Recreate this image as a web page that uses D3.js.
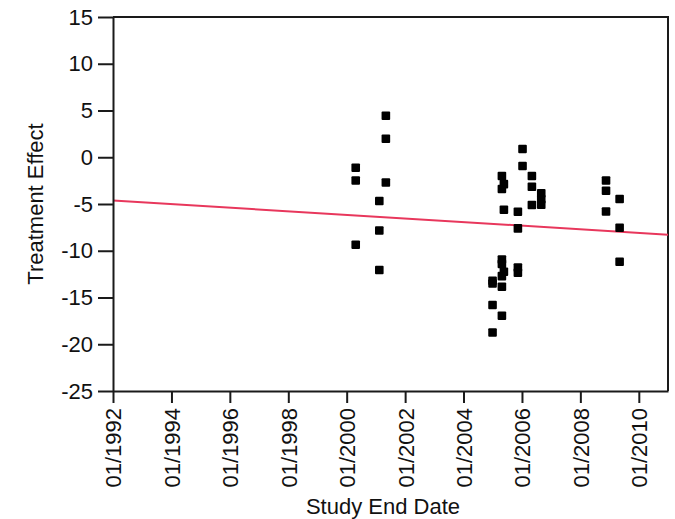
<!DOCTYPE html>
<html>
<head>
<meta charset="utf-8">
<script src="https://cdn.jsdelivr.net/npm/d3@7"></script>
<style>
  html, body { margin: 0; padding: 0; background: #fff; }
  svg { display: block; }
</style>
</head>
<body>
<svg id="chart" width="675" height="519"></svg>
<script>
// ---- data ----
const studyDates = [
  "2000-04-23","2000-04-23","2000-04-23",
  "2001-02-12","2001-02-12","2001-02-12",
  "2001-05-05","2001-05-05","2001-05-05",
  "2004-12-29","2004-12-29","2004-12-29","2004-12-29",
  "2005-04-25","2005-04-25","2005-04-25","2005-04-25","2005-04-25","2005-04-25","2005-04-25",
  "2005-05-20","2005-05-20","2005-05-20",
  "2005-11-11","2005-11-11","2005-11-11","2005-11-11",
  "2006-01-08","2006-01-08",
  "2006-05-05","2006-05-05","2006-05-05",
  "2006-08-30","2006-08-30","2006-08-30",
  "2008-11-17","2008-11-17","2008-11-17",
  "2009-05-06","2009-05-06","2009-05-06"
];
const treatmentEffects = [
  -1.12, -2.48, -9.36,
  -4.68, -7.83, -12.06,
  4.44, 1.98, -2.70,
  -13.21, -13.50, -15.81, -18.74,
  -2.01, -3.40, -10.93, -11.42, -12.71, -13.85, -16.95,
  -2.87, -5.61, -12.25,
  -5.83, -7.61, -11.79, -12.35,
  0.88, -0.94,
  -2.01, -3.16, -5.11,
  -3.85, -4.49, -5.08,
  -2.48, -3.58, -5.80,
  -4.47, -7.54, -11.18
];
const fitLineDates = ["1992-01-01", "2011-01-01"];
const fitLineValues = [-4.62, -8.29];
const yTickValues = [15, 10, 5, 0, -5, -10, -15, -20, -25];
const xTickYears = [1992, 1994, 1996, 1998, 2000, 2002, 2004, 2006, 2008, 2010];
const xDomain = ["1992-01-01", "2011-01-01"];
const yDomain = [-25, 15];

// ---- layout ----
const svg = d3.select("#chart");
const mLeft = 113, mRight = 668, mTop = 17, mBottom = 391;
const parse = d3.timeParse("%Y-%m-%d");
const fmt = d3.timeFormat("%m/%Y");
const FONT = "Liberation Sans, Arial, sans-serif";
const FS = 22;

const x = d3.scaleTime().domain(xDomain.map(parse)).range([mLeft, mRight]);
const y = d3.scaleLinear().domain(yDomain).range([mBottom, mTop]);

const axisColor = "#1a1a1a";

// box (top & right)
svg.append("path")
  .attr("d", `M${mLeft},${mTop}H${mRight}V${mBottom}`)
  .attr("fill", "none").attr("stroke", axisColor).attr("stroke-width", 2);

// fit line
const fitData = fitLineDates.map((d, i) => ({ d: parse(d), v: fitLineValues[i] }));
svg.append("path")
  .datum(fitData)
  .attr("d", d3.line().x(p => x(p.d)).y(p => y(p.v)))
  .attr("fill", "none").attr("stroke", "#e8375c").attr("stroke-width", 2);

// points
const pts = studyDates.map((d, i) => ({ d: parse(d), v: treatmentEffects[i] }));
const s = 8.6;
svg.append("g").selectAll("rect").data(pts).join("rect")
  .attr("x", p => x(p.d) - s / 2)
  .attr("y", p => y(p.v) - s / 2)
  .attr("width", s).attr("height", s)
  .attr("rx", 1).attr("fill", "#000");

// y axis
const yAxis = svg.append("g")
  .attr("transform", `translate(${mLeft},0)`)
  .call(d3.axisLeft(y).tickValues(yTickValues).tickFormat(d => String(d))
    .tickSize(15).tickPadding(5).tickSizeOuter(0));
yAxis.select(".domain").attr("stroke", axisColor).attr("stroke-width", 2);
yAxis.selectAll(".tick line").attr("stroke", axisColor).attr("stroke-width", 2);
yAxis.selectAll(".tick text")
  .attr("font-size", FS).attr("font-family", FONT).attr("fill", "#111");

// x axis
const xTicks = xTickYears.map(yr => new Date(yr, 0, 1));
const xAxis = svg.append("g")
  .attr("transform", `translate(0,${mBottom})`)
  .call(d3.axisBottom(x).tickValues(xTicks).tickFormat(fmt).tickSize(12).tickSizeOuter(0));
xAxis.select(".domain").attr("stroke", axisColor).attr("stroke-width", 2);
xAxis.selectAll(".tick line").attr("stroke", axisColor).attr("stroke-width", 2);
xAxis.selectAll(".tick text")
  .attr("font-size", FS).attr("font-family", FONT).attr("fill", "#111")
  .attr("transform", "rotate(-90)")
  .attr("text-anchor", "end")
  .attr("x", -17).attr("y", 0).attr("dy", "0.36em");

// axis titles
svg.append("text")
  .attr("transform", `translate(43,${(mTop + mBottom) / 2}) rotate(-90)`)
  .attr("text-anchor", "middle")
  .attr("font-family", FONT).attr("font-size", FS).attr("fill", "#111")
  .text("Treatment Effect");

svg.append("text")
  .attr("x", 383).attr("y", 514)
  .attr("text-anchor", "middle")
  .attr("font-family", FONT).attr("font-size", FS).attr("fill", "#111")
  .text("Study End Date");
</script>
</body>
</html>
